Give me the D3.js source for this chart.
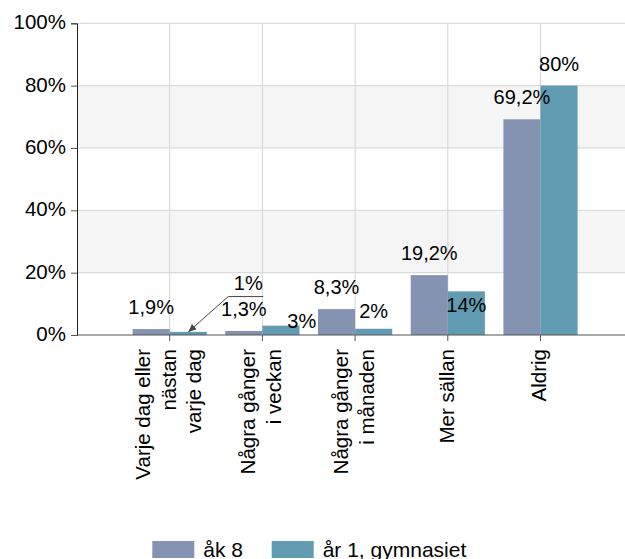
<!DOCTYPE html>
<html>
<head>
<meta charset="utf-8">
<script src="https://cdn.jsdelivr.net/npm/d3@7"></script>
<style>
  html, body { margin: 0; padding: 0; background: #fff; }
  svg { display: block; font-family: "Liberation Sans", Arial, sans-serif; }
</style>
</head>
<body>
<svg id="chart" width="625" height="559"></svg>
<script>
// ---- data ----
const categories = [
  ["Varje dag eller", "nästan", "varje dag"],
  ["Några gånger", "i veckan"],
  ["Några gånger", "i månaden"],
  ["Mer sällan"],
  ["Aldrig"]
];
const seriesNames = ["åk 8", "år 1, gymnasiet"];
const ak8 = [1.9, 1.3, 8.3, 19.2, 69.2];
const ar1 = [1, 3, 2, 14, 80];
const yTicks = [0, 20, 40, 60, 80, 100];

// ---- layout / style ----
const colors = ["#8593b2", "#609bb2"];
const plot = { left: 77, right: 640, top: 23.3, bottom: 335 };
// label nudges (layout only)
const nudges = [
  [{dx:0,dy:0},{dx:0,dy:0},{dx:0,dy:0},{dx:0,dy:0},{dx:0,dy:0}],
  [{dx:60,dy:-27,leader:true},{dx:20.8,dy:17.7},{dx:0,dy:4.5},{dx:0,dy:35.3},{dx:0,dy:0}]
];

const svg = d3.select("#chart");
const catKeys = categories.map((c, i) => i);
const x = d3.scalePoint().domain(catKeys).range([169.7, 540.5]).padding(0);
const step = x.step();
const barW = step * 0.4;
const y = d3.scaleLinear().domain([0, 100]).range([plot.bottom, plot.top]);

// alternating bands
const bands = [[20, 40], [60, 80]];
svg.append("g").selectAll("rect").data(bands).join("rect")
  .attr("x", plot.left).attr("width", plot.right - plot.left)
  .attr("y", d => y(d[1])).attr("height", d => y(d[0]) - y(d[1]))
  .attr("fill", "#f5f5f5");

// horizontal grid
svg.append("g").selectAll("line").data(yTicks.filter(t => t > 0)).join("line")
  .attr("x1", plot.left).attr("x2", plot.right)
  .attr("y1", d => y(d)).attr("y2", d => y(d))
  .attr("stroke", "#d4d4d4").attr("stroke-width", 1);

// vertical grid
svg.append("g").selectAll("line").data(catKeys).join("line")
  .attr("x1", d => x(d)).attr("x2", d => x(d))
  .attr("y1", plot.top).attr("y2", plot.bottom)
  .attr("stroke", "#d4d4d4").attr("stroke-width", 1);

// bars
const series = [ak8, ar1];
series.forEach((vals, s) => {
  svg.append("g").selectAll("rect").data(vals).join("rect")
    .attr("x", (d, i) => x(i) - barW + s * barW)
    .attr("width", barW)
    .attr("y", d => y(d))
    .attr("height", d => y(0) - y(d))
    .attr("fill", colors[s]);
});

// y axis
const yAxis = d3.axisLeft(y).tickValues(yTicks).tickSize(6).tickPadding(5)
  .tickFormat(d => d + "%");
const gy = svg.append("g").attr("transform", `translate(${plot.left},0)`).call(yAxis);
gy.select(".domain").attr("stroke", "#222");
gy.selectAll(".tick line").attr("stroke", "#555");
gy.selectAll(".tick text").attr("font-size", 20.5).attr("fill", "#000")
  .attr("font-family", "Liberation Sans, Arial, sans-serif").attr("dy", "0.27em");

// x axis line
svg.append("line").attr("x1", plot.left).attr("x2", plot.right)
  .attr("y1", plot.bottom).attr("y2", plot.bottom)
  .attr("stroke", "#555").attr("stroke-width", 1.2);
const gx = svg.append("g");
gx.selectAll("line").data(catKeys).join("line")
  .attr("x1", d => x(d)).attr("x2", d => x(d))
  .attr("y1", plot.bottom).attr("y2", plot.bottom + 6)
  .attr("stroke", "#555");

// x labels rotated
const lineH = 25.5;
categories.forEach((lines, i) => {
  const n = lines.length;
  const t = gx.append("text")
    .attr("transform", `translate(${x(i)},349) rotate(-90)`)
    .attr("text-anchor", "end")
    .attr("font-size", 20.5).attr("fill", "#000");
  lines.forEach((ln, k) => {
    t.append("tspan").attr("x", 0)
      .attr("y", (k - (n - 1) / 2) * lineH + 5.8)
      .text(ln);
  });
});

// data labels
series.forEach((vals, s) => {
  vals.forEach((v, i) => {
    const cx = x(i) - barW / 2 + s * barW;
    const top = y(v);
    const nd = nudges[s][i];
    const tx = cx + nd.dx, ty = top - 15 + nd.dy;
    svg.append("text").attr("x", tx).attr("y", ty)
      .attr("text-anchor", "middle").attr("font-size", 20).attr("fill", "#000")
      .text(String(v).replace(".", ",") + "%");
    if (nd.leader) {
      const lx0 = tx - 20, lx1 = tx + 15, ly = ty + 6.7;
      svg.append("line").attr("x1", lx0).attr("x2", lx1).attr("y1", ly).attr("y2", ly)
        .attr("stroke", "#444").attr("stroke-width", 1);
      svg.append("line").attr("x1", lx0).attr("y1", ly).attr("x2", cx).attr("y2", top)
        .attr("stroke", "#444").attr("stroke-width", 1);
      const ang = Math.atan2(top - ly, cx - lx0);
      const ah = 8, aw = 3.5;
      const bx = cx - ah * Math.cos(ang), by = top - ah * Math.sin(ang);
      const px = -Math.sin(ang) * aw, py = Math.cos(ang) * aw;
      svg.append("path")
        .attr("d", `M${cx},${top}L${bx + px},${by + py}L${bx - px},${by - py}Z`)
        .attr("fill", "#444");
    }
  });
});

// legend
const legendItems = [
  { x: 152.3, name: seriesNames[0], color: colors[0] },
  { x: 271.7, name: seriesNames[1], color: colors[1] }
];
const lg = svg.append("g");
legendItems.forEach(it => {
  lg.append("rect").attr("x", it.x).attr("y", 541).attr("width", 42).attr("height", 17)
    .attr("fill", it.color);
  lg.append("text").attr("x", it.x + 51).attr("y", 556.5)
    .attr("font-size", 21).attr("fill", "#000").text(it.name);
});
</script>
</body>
</html>
